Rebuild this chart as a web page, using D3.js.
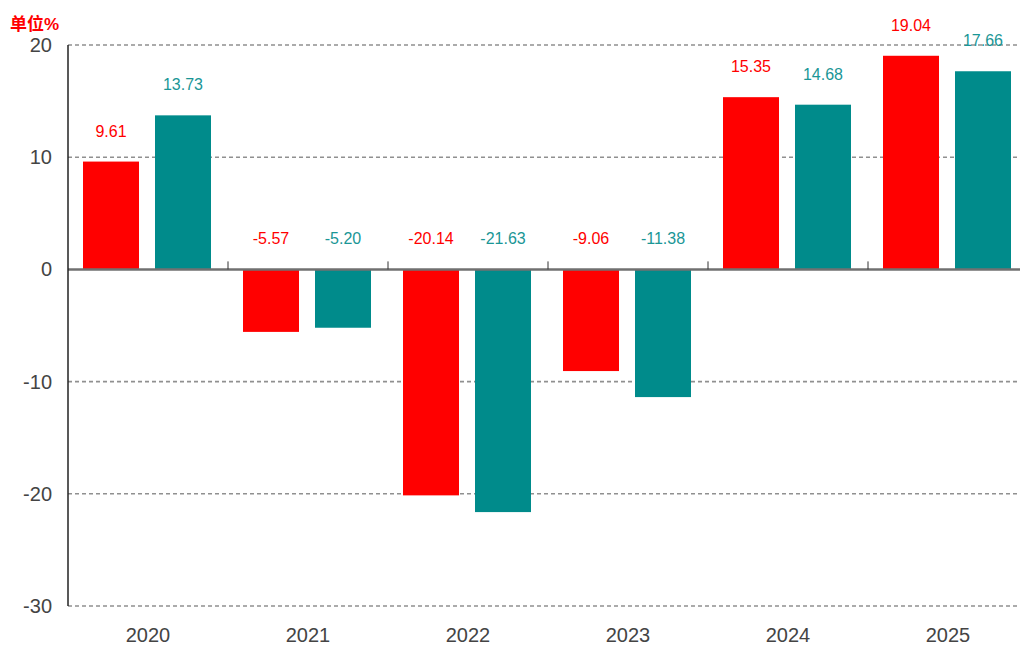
<!DOCTYPE html>
<html><head><meta charset="utf-8">
<script src="https://cdn.jsdelivr.net/npm/d3@7"></script>
<style>body{margin:0;background:#fff;}svg{display:block;font-family:Arial,"Liberation Sans","Noto Sans CJK SC",sans-serif;}</style>
</head><body><svg id="c" width="1020" height="646"></svg>
<script>
const categories = ["2020","2021","2022","2023","2024","2025"];
const seriesA = [9.61,-5.57,-20.14,-9.06,15.35,19.04];
const seriesB = [13.73,-5.20,-21.63,-11.38,14.68,17.66];
const yTicks = [20,10,0,-10,-20,-30];
const colors = ["#ff0000","#008b8b"];
const labelColors = ["#ff0000","#1a9696"];

const svg = d3.select("#c");
const L=68, R=1028, T=45, B=606;
const x = d3.scaleBand().domain(categories).range([L,R]);
const y = d3.scaleLinear().domain([-30,20]).range([B,T]);

// grid
svg.append("g").selectAll("line").data(yTicks.filter(d=>d!==0)).join("line")
  .attr("x1",L).attr("x2",1020).attr("y1",d=>y(d)).attr("y2",d=>y(d))
  .attr("stroke","#909090").attr("stroke-width",1.6).attr("stroke-dasharray","4,3");

// bars
[seriesA,seriesB].forEach((s,si)=>{
  svg.append("g").selectAll("rect").data(s).join("rect")
    .attr("x",(d,i)=>x(categories[i])+15+si*72)
    .attr("width",56)
    .attr("y",d=>y(Math.max(0,d)))
    .attr("height",d=>Math.abs(y(d)-y(0)))
    .attr("fill",colors[si]);
  svg.append("g").selectAll("text").data(s).join("text")
    .attr("x",(d,i)=>x(categories[i])+15+si*72+28)
    .attr("y",d=>y(Math.max(0,d))-25)
    .attr("text-anchor","middle").attr("font-size",16)
    .attr("fill",labelColors[si])
    .text(d=>d.toFixed(2));
});

// zero line
svg.append("line").attr("x1",L).attr("x2",1020).attr("y1",y(0)).attr("y2",y(0))
  .attr("stroke","#707070").attr("stroke-width",2.5);
// category ticks
svg.append("g").selectAll("line").data(categories.slice(1)).join("line")
  .attr("x1",d=>x(d)).attr("x2",d=>x(d)).attr("y1",y(0)).attr("y2",y(0)-8)
  .attr("stroke","#333").attr("stroke-width",1);

// y axis
svg.append("line").attr("x1",L).attr("x2",L).attr("y1",T).attr("y2",B)
  .attr("stroke","#222").attr("stroke-width",1.5);
svg.append("g").selectAll("text").data(yTicks).join("text")
  .attr("x",52).attr("y",d=>y(d)+7).attr("text-anchor","end")
  .attr("font-size",20).attr("fill","#444").text(d=>d);

// x labels
svg.append("g").selectAll("text").data(categories).join("text")
  .attr("x",d=>x(d)+x.bandwidth()/2).attr("y",642).attr("text-anchor","middle")
  .attr("font-size",20).attr("fill","#444").text(d=>d);

svg.append("text").attr("x",10).attr("y",30).attr("font-size",17).attr("fill","#ff0000")
  .attr("font-weight","bold").text("单位%");
</script></body></html>
